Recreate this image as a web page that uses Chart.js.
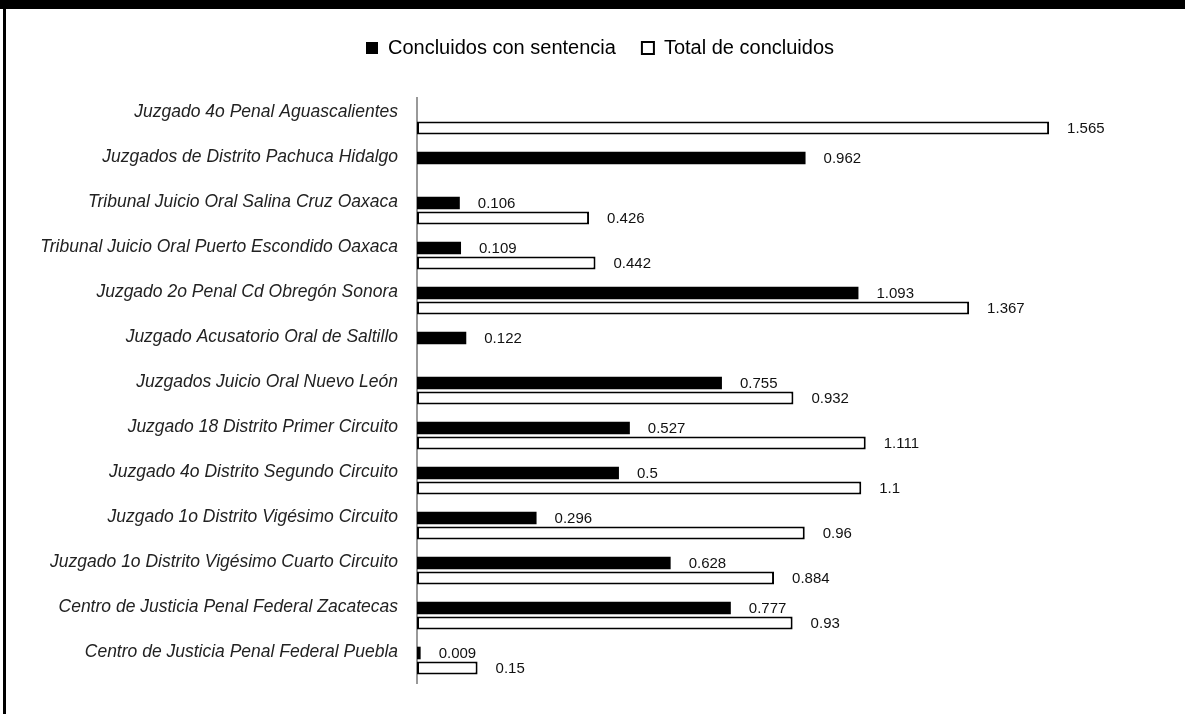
<!DOCTYPE html>
<html>
<head>
<meta charset="utf-8">
<script src="https://cdn.jsdelivr.net/npm/chart.js@4"></script>
<style>
  html, body { margin: 0; padding: 0; background: #fff; }
  #wrap { position: relative; width: 1185px; height: 714px; }
</style>
</head>
<body>
<div id="wrap"><canvas id="c" width="1185" height="714"></canvas></div>
<script>
const categories = [
  "Juzgado 4o Penal Aguascalientes",
  "Juzgados de Distrito Pachuca Hidalgo",
  "Tribunal Juicio Oral Salina Cruz Oaxaca",
  "Tribunal Juicio Oral Puerto Escondido Oaxaca",
  "Juzgado 2o Penal Cd Obregón Sonora",
  "Juzgado Acusatorio Oral de Saltillo",
  "Juzgados Juicio Oral Nuevo León",
  "Juzgado 18 Distrito Primer Circuito",
  "Juzgado 4o Distrito Segundo Circuito",
  "Juzgado 1o Distrito Vigésimo Circuito",
  "Juzgado 1o Distrito Vigésimo Cuarto Circuito",
  "Centro de Justicia Penal Federal Zacatecas",
  "Centro de Justicia Penal Federal Puebla"
];
const seriesNames = ["Concluidos con sentencia", "Total de concluidos"];
const concluidosConSentencia = [null, 0.962, 0.106, 0.109, 1.093, 0.122, 0.755, 0.527, 0.5, 0.296, 0.628, 0.777, 0.009];
const totalDeConcluidos = [1.565, null, 0.426, 0.442, 1.367, null, 0.932, 1.111, 1.1, 0.96, 0.884, 0.93, 0.15];

const FONT = "'Liberation Sans', Arial, sans-serif";

const framePlugin = {
  id: 'frame',
  beforeDraw(chart) {
    const ctx = chart.ctx;
    ctx.save();
    ctx.fillStyle = '#000';
    ctx.fillRect(0, 0, chart.width, 9);
    ctx.fillRect(3, 9, 3, chart.height - 9);
    ctx.restore();
  }
};

const legendShift = {
  id: 'legendShift',
  afterLayout(chart) {
    if (chart.legend) {
      chart.legend.left += 28;
      chart.legend.right += 28;
    }
  }
};

const valueLabels = {
  id: 'valueLabels',
  afterDatasetsDraw(chart) {
    const ctx = chart.ctx;
    ctx.save();
    ctx.font = '15px ' + FONT;
    ctx.fillStyle = '#111';
    ctx.textAlign = 'left';
    ctx.textBaseline = 'middle';
    chart.data.datasets.forEach((ds, i) => {
      const meta = chart.getDatasetMeta(i);
      meta.data.forEach((el, j) => {
        const v = ds.data[j];
        if (v === null || v === undefined) return;
        ctx.fillText(String(v), el.x + 18, el.y + 1);
      });
    });
    ctx.restore();
  }
};

new Chart(document.getElementById('c'), {
  type: 'bar',
  data: {
    labels: categories,
    datasets: [
      {
        label: seriesNames[0],
        data: concluidosConSentencia,
        backgroundColor: '#000',
        borderColor: '#000',
        borderWidth: 0,
        categoryPercentage: 0.667,
        barPercentage: 0.84
      },
      {
        label: seriesNames[1],
        data: totalDeConcluidos,
        backgroundColor: '#fff',
        borderColor: '#000',
        borderWidth: 2,
        borderSkipped: false,
        categoryPercentage: 0.667,
        barPercentage: 0.86
      }
    ]
  },
  options: {
    indexAxis: 'y',
    responsive: false,
    animation: false,
    devicePixelRatio: 1,
    layout: { padding: { top: 12, right: 41, bottom: 31, left: 0 } },
    plugins: {
      legend: {
        display: true,
        position: 'top',
        align: 'center',
        labels: {
          color: '#000',
          font: { family: FONT, size: 20 },
          boxWidth: 12,
          boxHeight: 12,
          padding: 26
        }
      },
      tooltip: { enabled: false },
      title: { display: false }
    },
    scales: {
      x: {
        position: 'top',
        min: 0,
        max: 1.8,
        display: true,
        grid: { display: false },
        border: { display: false },
        ticks: { display: false },
        afterFit: (s) => { s.height = 30; }
      },
      y: {
        grid: { display: false, drawTicks: false },
        border: { display: true, color: '#999', width: 2 },
        ticks: {
          color: '#222',
          padding: 19,
          labelOffset: -8,
          font: { family: FONT, size: 17.5, style: 'italic' }
        },
        afterFit: (s) => { s.width = 417; }
      }
    }
  },
  plugins: [framePlugin, legendShift, valueLabels]
});
</script>
</body>
</html>
